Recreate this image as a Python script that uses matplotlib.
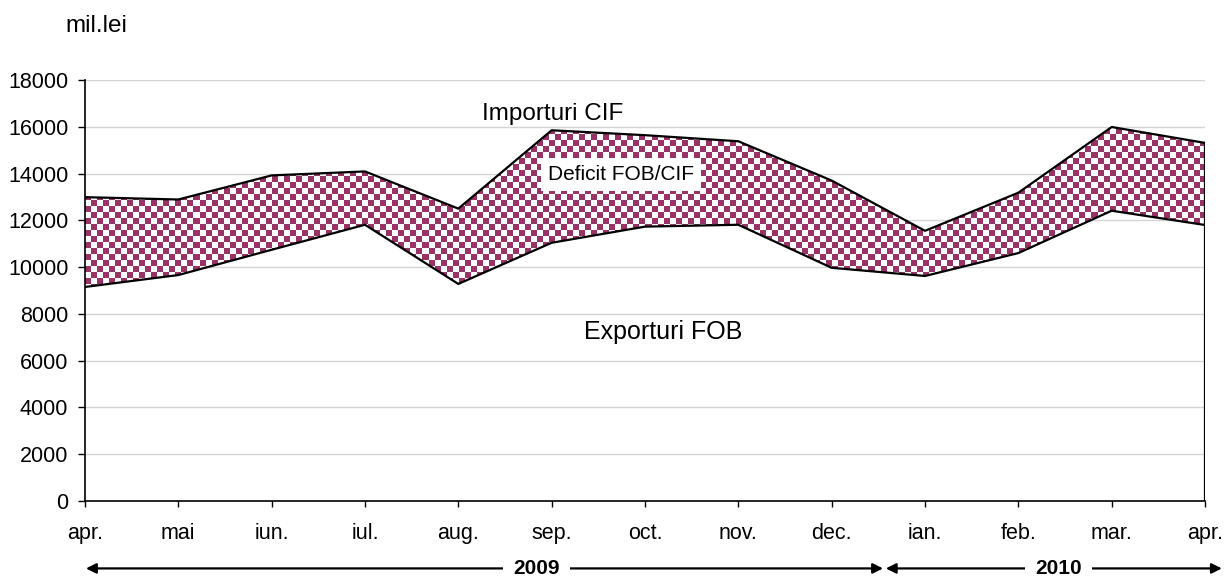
import numpy as np
import matplotlib
matplotlib.use('Agg')
import matplotlib.pyplot as plt
import matplotlib.transforms as mtransforms

plt.rcParams['font.family'] = ['Liberation Sans', 'DejaVu Sans']

# data (mil. lei), apr 2009 - apr 2010
months = ['apr.', 'mai', 'iun.', 'iul.', 'aug.', 'sep.', 'oct.', 'nov.', 'dec.',
          'ian.', 'feb.', 'mar.', 'apr.']
importuri = [12990, 12890, 13920, 14090, 12500, 15850, 15640, 15380, 13700,
             11550, 13180, 15990, 15310]
exporturi = [9150, 9660, 10740, 11810, 9280, 11040, 11730, 11810, 9970,
             9620, 10600, 12410, 11800]
yticks = list(range(0, 18001, 2000))

x = np.arange(len(months))
plum = '#993366'

fig = plt.figure(figsize=(12.24, 5.83), dpi=100)
ax = fig.add_axes([0.0694, 0.1407, 0.9151, 0.7221])

ax.set_xlim(0, len(months) - 1)
ax.set_ylim(0, 18000)

# gridlines
for v in yticks[1:]:
    ax.axhline(v, color='#d4d4d4', lw=1, zorder=0)

# checkerboard texture clipped to the deficit area
band = ax.fill_between(x, exporturi, importuri, facecolor='none', edgecolor='none', zorder=1)
cell = 6
w_px = 0.9151 * 1224
h_px = 0.7221 * 583
nx, ny = int(w_px / cell), int(h_px / cell)
checker = (np.add.outer(np.arange(ny), np.arange(nx)) % 2).astype(float)
cmap = matplotlib.colors.ListedColormap(['white', plum])
img = ax.imshow(checker, cmap=cmap, interpolation='nearest', aspect='auto',
                extent=[0, len(months) - 1, 0, 18000], zorder=1)
img.set_clip_path(band.get_paths()[0], transform=ax.transData)

# outlines
ax.plot(x, importuri, color='black', lw=1.6, zorder=3)
ax.plot(x, exporturi, color='black', lw=1.6, zorder=3)
ax.plot([x[-1], x[-1]], [0, importuri[-1]], color='black', lw=1.6, zorder=3)

ax.spines['top'].set_visible(False)
ax.spines['right'].set_visible(False)
ax.spines['left'].set_linewidth(1.2)
ax.spines['bottom'].set_linewidth(1.2)

ax.set_xticks(x)
ax.set_xticklabels(months)
ax.set_yticks(yticks)
ax.tick_params(axis='both', labelsize=15.5, direction='out', width=1)
ax.tick_params(axis='x', length=4, pad=12)
ax.tick_params(axis='y', length=5, pad=7)

# labels
ax.text(5.01, 16310, 'Importuri CIF', fontsize=17.5, ha='center', va='baseline')
ax.text(6.19, 6935, 'Exporturi FOB', fontsize=18, ha='center', va='baseline')
ax.text(5.74, 13712, 'Deficit FOB/CIF', fontsize=15, ha='center', va='baseline',
        bbox=dict(facecolor='white', edgecolor='none', pad=5), zorder=4)
fig.text(0.0531, 0.9446, 'mil.lei', fontsize=17.5, ha='left', va='baseline')

# year arrows
yrow = 0.025
bt = mtransforms.blended_transform_factory(ax.transData, fig.transFigure)
for x0, x1 in [(0.011, 8.55), (8.58, 12.18)]:
    ax.annotate('', xy=(x0, yrow), xytext=(x1, yrow),
                xycoords=bt, textcoords=bt,
                arrowprops=dict(arrowstyle='<|-|>', color='black', lw=1.6,
                                mutation_scale=15, shrinkA=0, shrinkB=0),
                annotation_clip=False)
for xp, lab in [(4.84, '2009'), (10.43, '2010')]:
    ax.text(xp, yrow, lab, transform=bt, fontsize=15, fontweight='bold',
            ha='center', va='center',
            bbox=dict(facecolor='white', edgecolor='none', boxstyle='square,pad=0.5'),
            zorder=5, clip_on=False)

fig.savefig('out.png', dpi=100)
